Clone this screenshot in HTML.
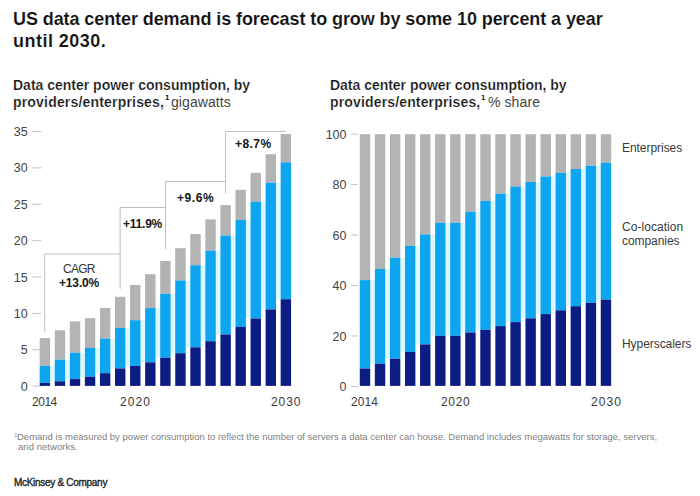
<!DOCTYPE html>
<html><head><meta charset="utf-8"><style>
html,body{margin:0;padding:0;background:#fff;}
body{width:700px;height:496px;overflow:hidden;}
svg{display:block;}
text{font-family:"Liberation Sans",sans-serif;white-space:pre;}
.t{font-size:18px;font-weight:bold;fill:#111;stroke:#fff;stroke-width:0.12px;}
.st{font-size:14px;font-weight:bold;fill:#151515;stroke:#fff;stroke-width:0.2px;}
.un{font-size:14px;fill:#444;}
.sup{font-size:8px;font-weight:bold;fill:#151515;}
.ax{font-size:12.5px;fill:#444;}
.yr{font-size:12px;fill:#3a3a3a;}
.lg{font-size:12px;fill:#3a3a3a;}
.ann{font-size:12px;font-weight:bold;fill:#151515;}
.cagr{font-size:12px;fill:#333;}
.fn{font-size:9.5px;fill:#808080;}
.fns{font-size:5.5px;fill:#808080;}
.logo{font-size:10px;font-weight:normal;fill:#222;stroke:#222;stroke-width:0.35px;}
.tk{stroke:#c4c4c4;stroke-width:1;}
.br{stroke:#bebebe;stroke-width:1;fill:none;}
</style></head><body>
<svg width="700" height="496" viewBox="0 0 700 496">
<defs><filter id="bl" x="-5%" y="-5%" width="110%" height="110%"><feGaussianBlur stdDeviation="0.4"/></filter></defs>
<g id="gfx" filter="url(#bl)">
<line x1="32.4" x2="41.5" y1="386.20" y2="386.20" class="tk"/>
<line x1="32.4" x2="41.5" y1="349.81" y2="349.81" class="tk"/>
<line x1="32.4" x2="41.5" y1="313.42" y2="313.42" class="tk"/>
<line x1="32.4" x2="41.5" y1="277.03" y2="277.03" class="tk"/>
<line x1="32.4" x2="41.5" y1="240.64" y2="240.64" class="tk"/>
<line x1="32.4" x2="41.5" y1="204.25" y2="204.25" class="tk"/>
<line x1="32.4" x2="41.5" y1="167.86" y2="167.86" class="tk"/>
<line x1="32.4" x2="41.5" y1="131.47" y2="131.47" class="tk"/>
<line x1="351.2" x2="358" y1="386.40" y2="386.40" class="tk"/>
<line x1="351.2" x2="358" y1="335.96" y2="335.96" class="tk"/>
<line x1="351.2" x2="358" y1="285.52" y2="285.52" class="tk"/>
<line x1="351.2" x2="358" y1="235.08" y2="235.08" class="tk"/>
<line x1="351.2" x2="358" y1="184.64" y2="184.64" class="tk"/>
<line x1="351.2" x2="358" y1="134.20" y2="134.20" class="tk"/>
<polyline class="br" points="44.7,331.8 44.7,254 120.1,254 120.1,289"/>
<polyline class="br" points="120.1,254 120.1,207.5 165.5,207.5 165.5,249"/>
<polyline class="br" points="165.5,207.5 165.5,181.5 225.6,181.5 225.6,193.6"/>
<polyline class="br" points="225.6,181.5 225.6,131.5 285.6,131.5"/>
<rect x="50.10" y="365.80" width="4.66" height="15.50" fill="#dcf7ff"/>
<rect x="65.16" y="359.70" width="4.66" height="19.40" fill="#dcf7ff"/>
<rect x="80.22" y="352.70" width="4.66" height="24.10" fill="#dcf7ff"/>
<rect x="95.28" y="348.00" width="4.66" height="25.20" fill="#dcf7ff"/>
<rect x="110.34" y="338.60" width="4.66" height="29.80" fill="#dcf7ff"/>
<rect x="125.40" y="328.00" width="4.66" height="37.90" fill="#dcf7ff"/>
<rect x="140.46" y="320.20" width="4.66" height="42.10" fill="#dcf7ff"/>
<rect x="155.52" y="308.10" width="4.66" height="49.70" fill="#dcf7ff"/>
<rect x="170.58" y="293.70" width="4.66" height="59.50" fill="#dcf7ff"/>
<rect x="185.64" y="280.50" width="4.66" height="66.80" fill="#dcf7ff"/>
<rect x="200.70" y="265.20" width="4.66" height="76.00" fill="#dcf7ff"/>
<rect x="215.76" y="250.70" width="4.66" height="83.80" fill="#dcf7ff"/>
<rect x="230.82" y="235.60" width="4.66" height="91.40" fill="#dcf7ff"/>
<rect x="245.88" y="219.80" width="4.66" height="98.70" fill="#dcf7ff"/>
<rect x="260.94" y="201.70" width="4.66" height="107.70" fill="#dcf7ff"/>
<rect x="276.00" y="182.70" width="4.66" height="116.50" fill="#dcf7ff"/>
<rect x="370.20" y="280.10" width="4.66" height="83.70" fill="#dcf7ff"/>
<rect x="385.26" y="269.00" width="4.66" height="89.70" fill="#dcf7ff"/>
<rect x="400.32" y="257.70" width="4.66" height="94.30" fill="#dcf7ff"/>
<rect x="415.38" y="245.90" width="4.66" height="98.50" fill="#dcf7ff"/>
<rect x="430.44" y="234.40" width="4.66" height="101.50" fill="#dcf7ff"/>
<rect x="445.50" y="222.80" width="4.66" height="113.10" fill="#dcf7ff"/>
<rect x="460.56" y="222.80" width="4.66" height="109.70" fill="#dcf7ff"/>
<rect x="475.62" y="211.70" width="4.66" height="118.10" fill="#dcf7ff"/>
<rect x="490.68" y="200.90" width="4.66" height="125.20" fill="#dcf7ff"/>
<rect x="505.74" y="193.70" width="4.66" height="128.40" fill="#dcf7ff"/>
<rect x="520.80" y="186.60" width="4.66" height="131.70" fill="#dcf7ff"/>
<rect x="535.86" y="181.90" width="4.66" height="132.20" fill="#dcf7ff"/>
<rect x="550.92" y="176.50" width="4.66" height="133.80" fill="#dcf7ff"/>
<rect x="565.98" y="172.80" width="4.66" height="133.40" fill="#dcf7ff"/>
<rect x="581.04" y="169.00" width="4.66" height="133.80" fill="#dcf7ff"/>
<rect x="596.10" y="165.70" width="4.66" height="133.90" fill="#dcf7ff"/>
<rect x="39.70" y="338.10" width="10.4" height="27.70" fill="#b3b3b3"/>
<rect x="39.70" y="365.80" width="10.4" height="17.10" fill="#0ea5ef"/>
<rect x="39.70" y="382.90" width="10.4" height="3.00" fill="#0b1f82"/>
<rect x="54.76" y="330.30" width="10.4" height="29.40" fill="#b3b3b3"/>
<rect x="54.76" y="359.70" width="10.4" height="21.60" fill="#0ea5ef"/>
<rect x="54.76" y="381.30" width="10.4" height="4.60" fill="#0b1f82"/>
<rect x="69.82" y="321.40" width="10.4" height="31.30" fill="#b3b3b3"/>
<rect x="69.82" y="352.70" width="10.4" height="26.40" fill="#0ea5ef"/>
<rect x="69.82" y="379.10" width="10.4" height="6.80" fill="#0b1f82"/>
<rect x="84.88" y="318.20" width="10.4" height="29.80" fill="#b3b3b3"/>
<rect x="84.88" y="348.00" width="10.4" height="28.80" fill="#0ea5ef"/>
<rect x="84.88" y="376.80" width="10.4" height="9.10" fill="#0b1f82"/>
<rect x="99.94" y="308.00" width="10.4" height="30.60" fill="#b3b3b3"/>
<rect x="99.94" y="338.60" width="10.4" height="34.60" fill="#0ea5ef"/>
<rect x="99.94" y="373.20" width="10.4" height="12.70" fill="#0b1f82"/>
<rect x="115.00" y="296.80" width="10.4" height="31.20" fill="#b3b3b3"/>
<rect x="115.00" y="328.00" width="10.4" height="40.40" fill="#0ea5ef"/>
<rect x="115.00" y="368.40" width="10.4" height="17.50" fill="#0b1f82"/>
<rect x="130.06" y="285.00" width="10.4" height="35.20" fill="#b3b3b3"/>
<rect x="130.06" y="320.20" width="10.4" height="45.70" fill="#0ea5ef"/>
<rect x="130.06" y="365.90" width="10.4" height="20.00" fill="#0b1f82"/>
<rect x="145.12" y="274.20" width="10.4" height="33.90" fill="#b3b3b3"/>
<rect x="145.12" y="308.10" width="10.4" height="54.20" fill="#0ea5ef"/>
<rect x="145.12" y="362.30" width="10.4" height="23.60" fill="#0b1f82"/>
<rect x="160.18" y="261.00" width="10.4" height="32.70" fill="#b3b3b3"/>
<rect x="160.18" y="293.70" width="10.4" height="64.10" fill="#0ea5ef"/>
<rect x="160.18" y="357.80" width="10.4" height="28.10" fill="#0b1f82"/>
<rect x="175.24" y="248.20" width="10.4" height="32.30" fill="#b3b3b3"/>
<rect x="175.24" y="280.50" width="10.4" height="72.70" fill="#0ea5ef"/>
<rect x="175.24" y="353.20" width="10.4" height="32.70" fill="#0b1f82"/>
<rect x="190.30" y="234.00" width="10.4" height="31.20" fill="#b3b3b3"/>
<rect x="190.30" y="265.20" width="10.4" height="82.10" fill="#0ea5ef"/>
<rect x="190.30" y="347.30" width="10.4" height="38.60" fill="#0b1f82"/>
<rect x="205.36" y="219.40" width="10.4" height="31.30" fill="#b3b3b3"/>
<rect x="205.36" y="250.70" width="10.4" height="90.50" fill="#0ea5ef"/>
<rect x="205.36" y="341.20" width="10.4" height="44.70" fill="#0b1f82"/>
<rect x="220.42" y="205.10" width="10.4" height="30.50" fill="#b3b3b3"/>
<rect x="220.42" y="235.60" width="10.4" height="98.90" fill="#0ea5ef"/>
<rect x="220.42" y="334.50" width="10.4" height="51.40" fill="#0b1f82"/>
<rect x="235.48" y="189.80" width="10.4" height="30.00" fill="#b3b3b3"/>
<rect x="235.48" y="219.80" width="10.4" height="107.20" fill="#0ea5ef"/>
<rect x="235.48" y="327.00" width="10.4" height="58.90" fill="#0b1f82"/>
<rect x="250.54" y="172.90" width="10.4" height="28.80" fill="#b3b3b3"/>
<rect x="250.54" y="201.70" width="10.4" height="116.80" fill="#0ea5ef"/>
<rect x="250.54" y="318.50" width="10.4" height="67.40" fill="#0b1f82"/>
<rect x="265.60" y="154.20" width="10.4" height="28.50" fill="#b3b3b3"/>
<rect x="265.60" y="182.70" width="10.4" height="126.70" fill="#0ea5ef"/>
<rect x="265.60" y="309.40" width="10.4" height="76.50" fill="#0b1f82"/>
<rect x="280.66" y="134.00" width="10.4" height="28.30" fill="#b3b3b3"/>
<rect x="280.66" y="162.30" width="10.4" height="136.90" fill="#0ea5ef"/>
<rect x="280.66" y="299.20" width="10.4" height="86.70" fill="#0b1f82"/>
<rect x="359.80" y="134.20" width="10.4" height="145.90" fill="#b3b3b3"/>
<rect x="359.80" y="280.10" width="10.4" height="88.40" fill="#0ea5ef"/>
<rect x="359.80" y="368.50" width="10.4" height="17.40" fill="#0b1f82"/>
<rect x="374.86" y="134.20" width="10.4" height="134.80" fill="#b3b3b3"/>
<rect x="374.86" y="269.00" width="10.4" height="94.80" fill="#0ea5ef"/>
<rect x="374.86" y="363.80" width="10.4" height="22.10" fill="#0b1f82"/>
<rect x="389.92" y="134.20" width="10.4" height="123.50" fill="#b3b3b3"/>
<rect x="389.92" y="257.70" width="10.4" height="101.00" fill="#0ea5ef"/>
<rect x="389.92" y="358.70" width="10.4" height="27.20" fill="#0b1f82"/>
<rect x="404.98" y="134.20" width="10.4" height="111.70" fill="#b3b3b3"/>
<rect x="404.98" y="245.90" width="10.4" height="106.10" fill="#0ea5ef"/>
<rect x="404.98" y="352.00" width="10.4" height="33.90" fill="#0b1f82"/>
<rect x="420.04" y="134.20" width="10.4" height="100.20" fill="#b3b3b3"/>
<rect x="420.04" y="234.40" width="10.4" height="110.00" fill="#0ea5ef"/>
<rect x="420.04" y="344.40" width="10.4" height="41.50" fill="#0b1f82"/>
<rect x="435.10" y="134.20" width="10.4" height="88.60" fill="#b3b3b3"/>
<rect x="435.10" y="222.80" width="10.4" height="113.10" fill="#0ea5ef"/>
<rect x="435.10" y="335.90" width="10.4" height="50.00" fill="#0b1f82"/>
<rect x="450.16" y="134.20" width="10.4" height="88.60" fill="#b3b3b3"/>
<rect x="450.16" y="222.80" width="10.4" height="113.10" fill="#0ea5ef"/>
<rect x="450.16" y="335.90" width="10.4" height="50.00" fill="#0b1f82"/>
<rect x="465.22" y="134.20" width="10.4" height="77.50" fill="#b3b3b3"/>
<rect x="465.22" y="211.70" width="10.4" height="120.80" fill="#0ea5ef"/>
<rect x="465.22" y="332.50" width="10.4" height="53.40" fill="#0b1f82"/>
<rect x="480.28" y="134.20" width="10.4" height="66.70" fill="#b3b3b3"/>
<rect x="480.28" y="200.90" width="10.4" height="128.90" fill="#0ea5ef"/>
<rect x="480.28" y="329.80" width="10.4" height="56.10" fill="#0b1f82"/>
<rect x="495.34" y="134.20" width="10.4" height="59.50" fill="#b3b3b3"/>
<rect x="495.34" y="193.70" width="10.4" height="132.40" fill="#0ea5ef"/>
<rect x="495.34" y="326.10" width="10.4" height="59.80" fill="#0b1f82"/>
<rect x="510.40" y="134.20" width="10.4" height="52.40" fill="#b3b3b3"/>
<rect x="510.40" y="186.60" width="10.4" height="135.50" fill="#0ea5ef"/>
<rect x="510.40" y="322.10" width="10.4" height="63.80" fill="#0b1f82"/>
<rect x="525.46" y="134.20" width="10.4" height="47.70" fill="#b3b3b3"/>
<rect x="525.46" y="181.90" width="10.4" height="136.40" fill="#0ea5ef"/>
<rect x="525.46" y="318.30" width="10.4" height="67.60" fill="#0b1f82"/>
<rect x="540.52" y="134.20" width="10.4" height="42.30" fill="#b3b3b3"/>
<rect x="540.52" y="176.50" width="10.4" height="137.60" fill="#0ea5ef"/>
<rect x="540.52" y="314.10" width="10.4" height="71.80" fill="#0b1f82"/>
<rect x="555.58" y="134.20" width="10.4" height="38.60" fill="#b3b3b3"/>
<rect x="555.58" y="172.80" width="10.4" height="137.50" fill="#0ea5ef"/>
<rect x="555.58" y="310.30" width="10.4" height="75.60" fill="#0b1f82"/>
<rect x="570.64" y="134.20" width="10.4" height="34.80" fill="#b3b3b3"/>
<rect x="570.64" y="169.00" width="10.4" height="137.20" fill="#0ea5ef"/>
<rect x="570.64" y="306.20" width="10.4" height="79.70" fill="#0b1f82"/>
<rect x="585.70" y="134.20" width="10.4" height="31.50" fill="#b3b3b3"/>
<rect x="585.70" y="165.70" width="10.4" height="137.10" fill="#0ea5ef"/>
<rect x="585.70" y="302.80" width="10.4" height="83.10" fill="#0b1f82"/>
<rect x="600.76" y="134.20" width="10.4" height="28.50" fill="#b3b3b3"/>
<rect x="600.76" y="162.70" width="10.4" height="136.90" fill="#0ea5ef"/>
<rect x="600.76" y="299.60" width="10.4" height="86.30" fill="#0b1f82"/>
</g>
<text id="axL0" x="27.6" y="390.80" class="ax" text-anchor="end">0</text>
<text id="axL1" x="27.6" y="354.41" class="ax" text-anchor="end">5</text>
<text id="axL2" x="27.6" y="318.02" class="ax" text-anchor="end">10</text>
<text id="axL3" x="27.6" y="281.63" class="ax" text-anchor="end">15</text>
<text id="axL4" x="27.6" y="245.24" class="ax" text-anchor="end">20</text>
<text id="axL5" x="27.6" y="208.85" class="ax" text-anchor="end">25</text>
<text id="axL6" x="27.6" y="172.46" class="ax" text-anchor="end">30</text>
<text id="axL7" x="27.6" y="136.07" class="ax" text-anchor="end">35</text>
<text id="axR0" x="346.5" y="391.00" class="ax" text-anchor="end">0</text>
<text id="axR1" x="346.5" y="340.56" class="ax" text-anchor="end">20</text>
<text id="axR2" x="346.5" y="290.12" class="ax" text-anchor="end">40</text>
<text id="axR3" x="346.5" y="239.68" class="ax" text-anchor="end">60</text>
<text id="axR4" x="346.5" y="189.24" class="ax" text-anchor="end">80</text>
<text id="axR5" x="346.5" y="138.80" class="ax" text-anchor="end">100</text>
<text id="title1" x="13.00" y="24.80" class="t" textLength="589.72" lengthAdjust="spacing">US data center demand is forecast to grow by some 10 percent a year</text>
<text id="title2" x="13.00" y="47.00" class="t" textLength="92.83" lengthAdjust="spacing">until 2030.</text>
<text id="s1L" x="13.00" y="89.80" class="st" textLength="237.17" lengthAdjust="spacing">Data center power consumption, by</text>
<text id="s2L" x="13.00" y="107.00" class="st" textLength="150.96" lengthAdjust="spacing">providers/enterprises,</text>
<text id="sup1L" x="165.00" y="100.00" class="sup">1</text>
<text id="uL" x="171.00" y="107.00" class="un" textLength="59.76" lengthAdjust="spacing">gigawatts</text>
<text id="s1R" x="330.00" y="89.80" class="st" textLength="236.57" lengthAdjust="spacing">Data center power consumption, by</text>
<text id="s2R" x="330.00" y="107.00" class="st" textLength="150.26" lengthAdjust="spacing">providers/enterprises,</text>
<text id="sup1R" x="481.00" y="100.00" class="sup">1</text>
<text id="uR" x="488.00" y="107.00" class="un" textLength="51.96" lengthAdjust="spacing">% share</text>
<text id="cagr" x="63.00" y="272.80" class="cagr" textLength="32.43" lengthAdjust="spacing">CAGR</text>
<text id="a13" x="59.00" y="287.30" class="ann" textLength="40.25" lengthAdjust="spacing">+13.0%</text>
<text id="a119" x="123.00" y="228.20" class="ann" textLength="39.28" lengthAdjust="spacing">+11.9%</text>
<text id="a96" x="177.00" y="202.40" class="ann" textLength="36.56" lengthAdjust="spacing">+9.6%</text>
<text id="a87" x="235.00" y="147.80" class="ann" textLength="36.06" lengthAdjust="spacing">+8.7%</text>
<text id="yL14" x="32.00" y="406.20" class="yr" textLength="25.30" lengthAdjust="spacing">2014</text>
<text id="yL20" x="120.00" y="406.20" class="yr" textLength="29.90" lengthAdjust="spacing">2020</text>
<text id="yL30" x="271.00" y="406.20" class="yr" textLength="29.40" lengthAdjust="spacing">2030</text>
<text id="yR14" x="351.00" y="406.20" class="yr" textLength="27.00" lengthAdjust="spacing">2014</text>
<text id="yR20" x="441.00" y="406.20" class="yr" textLength="28.70" lengthAdjust="spacing">2020</text>
<text id="yR30" x="591.00" y="406.20" class="yr" textLength="29.90" lengthAdjust="spacing">2030</text>
<text id="lgE" x="622.00" y="152.00" class="lg" textLength="60.20" lengthAdjust="spacing">Enterprises</text>
<text id="lgC1" x="622.00" y="231.00" class="lg" textLength="61.20" lengthAdjust="spacing">Co-location</text>
<text id="lgC2" x="622.00" y="245.30" class="lg" textLength="57.53" lengthAdjust="spacing">companies</text>
<text id="lgH" x="622.00" y="348.30" class="lg" textLength="69.33" lengthAdjust="spacing">Hyperscalers</text>
<text id="fn1s" x="14.20" y="437.00" class="fns">1</text>
<text id="fn1" x="17.00" y="439.70" class="fn" textLength="640.05" lengthAdjust="spacing">Demand is measured by power consumption to reflect the number of servers a data center can house. Demand includes megawatts for storage, servers,</text>
<text id="fn2" x="18.00" y="450.40" class="fn" textLength="59.66" lengthAdjust="spacing">and networks.</text>
<text id="logo" x="14.00" y="485.70" class="logo" textLength="93.38" lengthAdjust="spacing">McKinsey &amp; Company</text>
</svg>
</body></html>
